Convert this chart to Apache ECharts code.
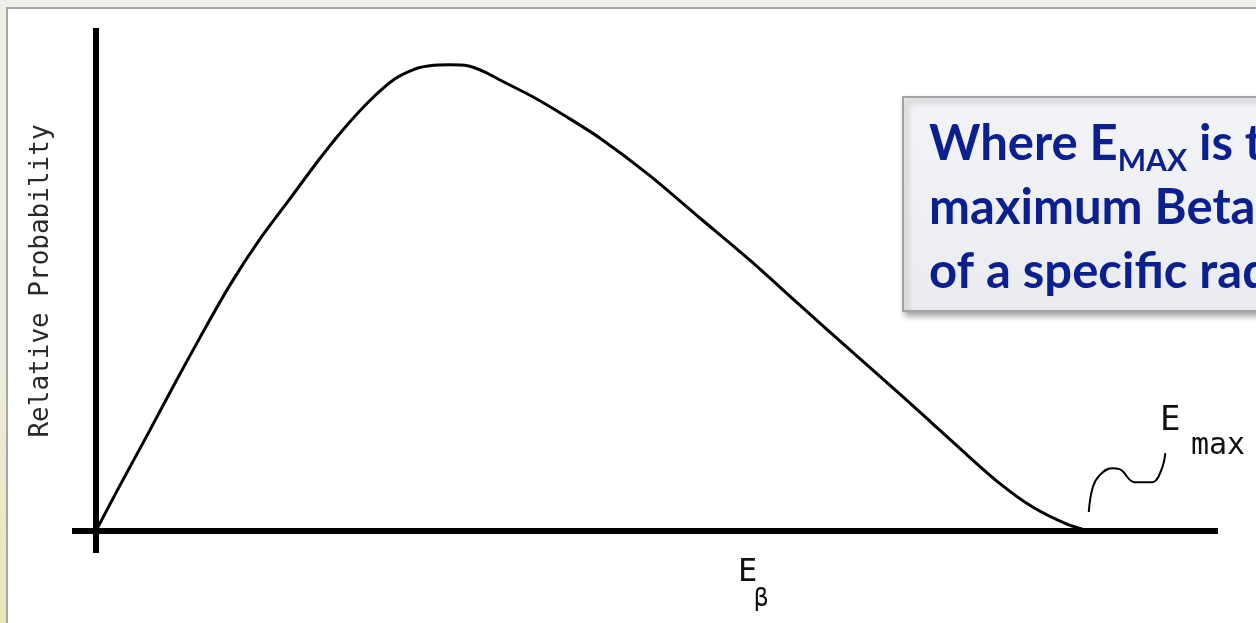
<!DOCTYPE html>
<html>
<head>
<meta charset="utf-8">
<script src="https://cdn.jsdelivr.net/npm/echarts@6/dist/echarts.min.js"></script>
<style>
  html, body { margin: 0; padding: 0; background: #efeee8; }
  #chart { width: 1256px; height: 623px; }
</style>
</head>
<body>
<div id="chart"></div>
<script>
// ---- data ----
// Beta energy spectrum: energy in % of Emax, probability in % of peak
const energy = [0, 2.4, 5.4, 7.9, 10.5, 13.5, 16.5, 19.5, 22.5, 25.0, 27.6, 30.1, 32.1, 33.6, 35.6, 37.4, 39.1, 40.6, 44.0, 47.4, 50.7, 55.7, 60.8, 65.8, 70.8, 75.9, 80.9, 83.9, 87.2, 90.9, 94.3, 97.7, 100];
const probability = [0, 9.7, 21.5, 31.5, 41.6, 52.8, 62.6, 71.2, 79.8, 86.4, 92.4, 97.0, 99.1, 99.8, 100, 99.8, 98.5, 96.8, 93.1, 88.8, 84.3, 76.3, 67.1, 58.1, 48.5, 38.8, 29.4, 23.6, 17.2, 10.3, 5.1, 1.5, 0];
// wavy leader line pointing at Emax
const leaderX = [99.9, 100.3, 101.0, 102.2, 103.0, 104.5, 106.3, 107.2, 107.6];
const leaderY = [4.1, 9.4, 12.0, 13.5, 13.3, 10.5, 10.5, 13.1, 16.7];
// axis ranges
const xRange = [-2.4, 112.9];
const yRange = [-4.7, 107.9];
// texts
const yAxisTitle = 'Relative Probability';
const xAxisSymbol = 'E';
const xAxisSub = 'β';
const emaxSymbol = 'E';
const emaxSub = 'max';
const noteLines = ['Where E', 'MAX', ' is the', 'maximum Beta', 'of a specific radionuclide'];

const spectrum = energy.map((e, i) => [e, probability[i]]);
const leader = leaderX.map((x, i) => [x, leaderY[i]]);

const chart = echarts.init(document.getElementById('chart'), null, { renderer: 'canvas' });
const blue = '#0b1f8f';

chart.setOption({
  animation: false,
  backgroundColor: '#efeee8',
  grid: { left: 72, right: 38, top: 28, bottom: 70, containLabel: false, outerBoundsMode: 'none' },
  xAxis: {
    type: 'value', min: xRange[0], max: xRange[1],
    axisLine: { show: true, onZero: true, lineStyle: { color: '#000', width: 6, cap: 'butt' } },
    axisTick: { show: false }, axisLabel: { show: false }, splitLine: { show: false }
  },
  yAxis: {
    type: 'value', min: yRange[0], max: yRange[1],
    axisLine: { show: true, onZero: true, lineStyle: { color: '#000', width: 6, cap: 'butt' } },
    axisTick: { show: false }, axisLabel: { show: false }, splitLine: { show: false }
  },
  graphic: [
    // page frame
    { type: 'rect', z: -10, silent: true, shape: { x: 0, y: 0, width: 7, height: 623 },
      style: { fill: new echarts.graphic.LinearGradient(0, 0, 0, 1, [
        { offset: 0, color: '#efeee8' }, { offset: 0.6, color: '#eeecdc' }, { offset: 1, color: '#e9e6bd' }]) } },
    { type: 'rect', z: -9, silent: true, shape: { x: 7, y: 8, width: 1300, height: 700 },
      style: { fill: '#ffffff', stroke: '#a6a6a2', lineWidth: 2 } },
    // y axis title
    { type: 'text', silent: true, x: 41, y: 281, rotation: Math.PI / 2,
      style: { text: yAxisTitle, font: '26px "DejaVu Sans Mono"', fill: '#2a2a2a', align: 'center', verticalAlign: 'middle' } },
    // note box
    { type: 'rect', z: 10, silent: true, shape: { x: 903, y: 97, width: 400, height: 214 },
      style: {
        fill: new echarts.graphic.LinearGradient(0, 0, 0, 1, [
          { offset: 0, color: '#f3f4f7' }, { offset: 1, color: '#eaecf0' }]),
        stroke: '#a3a3a3', lineWidth: 2,
        shadowBlur: 6, shadowColor: 'rgba(0,0,0,0.35)', shadowOffsetX: 3, shadowOffsetY: 4
      } },
    { type: 'text', z: 11, silent: true, x: 929, y: 112,
      style: {
        text: '{t|' + noteLines[0] + '}{s|' + noteLines[1] + '}{t|' + noteLines[2] + '}\n{t|' + noteLines[3] + '}\n{t|' + noteLines[4] + '}',
        rich: {
          t: { fontFamily: 'Lato', fontWeight: 'bold', fontSize: 49, lineHeight: 64, fill: blue, color: blue },
          s: { fontFamily: 'Lato', fontWeight: 'bold', fontSize: 30, lineHeight: 18, verticalAlign: 'bottom', fill: blue, color: blue }
        }
      } },
    // E beta label
    { type: 'text', silent: true, x: 738, y: 573,
      style: { text: xAxisSymbol, font: '32px "DejaVu Sans Mono"', fill: '#111', verticalAlign: 'middle', align: 'left' } },
    { type: 'text', silent: true, x: 754, y: 600,
      style: { text: xAxisSub, font: '24px "DejaVu Sans Mono"', fill: '#111', verticalAlign: 'middle', align: 'left' } },
    // Emax label
    { type: 'text', silent: true, x: 1160, y: 421,
      style: { text: emaxSymbol, font: '34px "DejaVu Sans Mono"', fill: '#111', verticalAlign: 'middle', align: 'left' } },
    { type: 'text', silent: true, x: 1191, y: 446,
      style: { text: emaxSub, font: '30px "DejaVu Sans Mono"', fill: '#111', verticalAlign: 'middle', align: 'left' } }
  ],
  series: [
    { type: 'line', name: 'spectrum', data: spectrum, smooth: 0.3, symbol: 'none',
      lineStyle: { color: '#000', width: 3 }, clip: false, z: 3 },
    { type: 'line', name: 'leader', data: leader, smooth: 0.4, symbol: 'none',
      lineStyle: { color: '#000', width: 2 }, clip: false, z: 3 }
  ]
});
</script>
</body>
</html>
